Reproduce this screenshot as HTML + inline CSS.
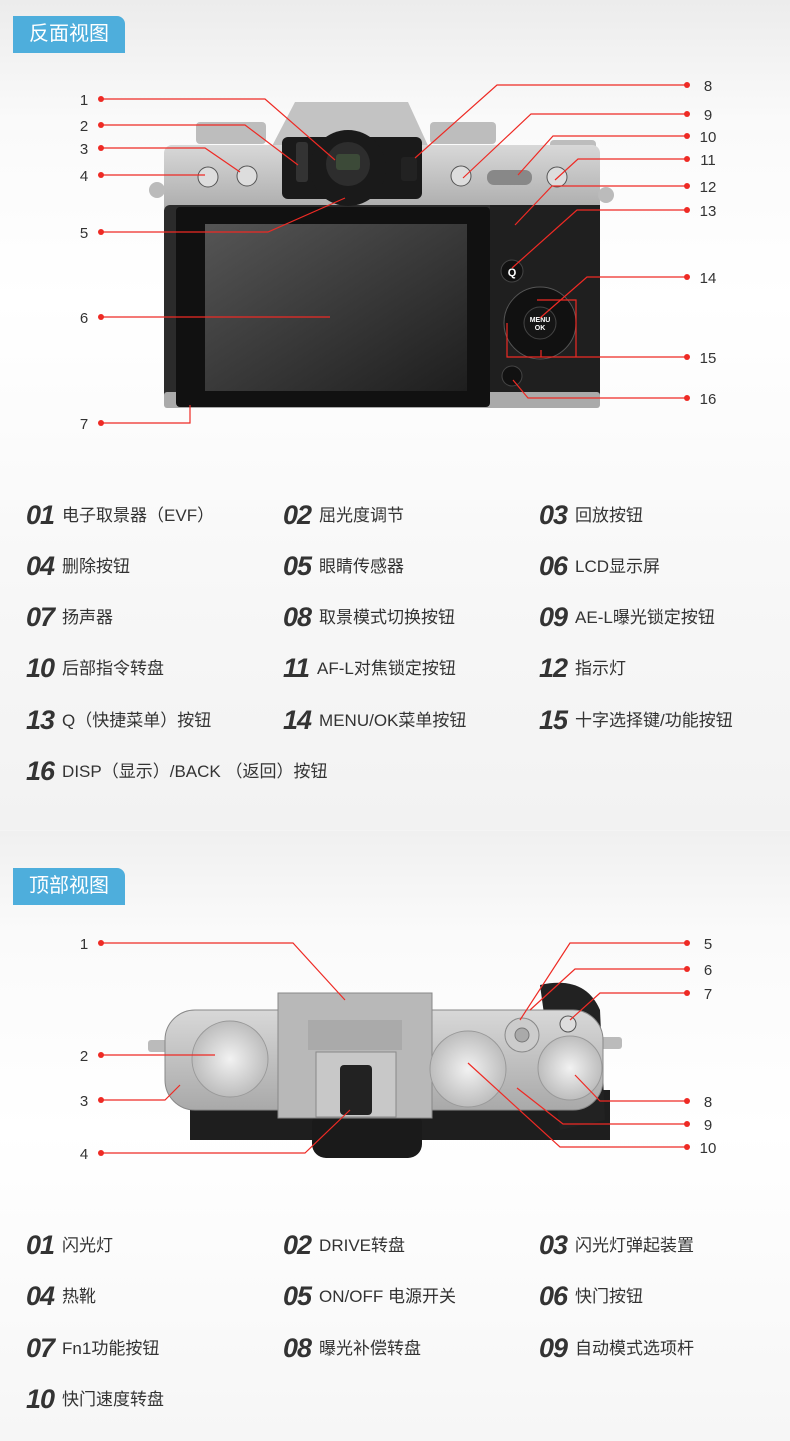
<!DOCTYPE html>
<html><head><meta charset="utf-8">
<style>
html,body{margin:0;padding:0}
body{width:790px;height:1441px;position:relative;overflow:hidden;font-family:"Liberation Sans","Noto Sans CJK SC",sans-serif;background:#f4f4f4}
.sec1{position:absolute;left:0;top:0;width:790px;height:830px;background:linear-gradient(#ececec 0px,#fafafa 120px,#fff 300px,#f7f7f7 600px,#f2f2f2 830px)}
.sec2{position:absolute;left:0;top:831px;width:790px;height:610px;background:linear-gradient(#f0f0f0 0px,#fafafa 100px,#fff 300px,#f6f6f6 610px)}
.badge{position:absolute;left:13px;width:112px;height:37px;background:#4eaedc;color:#fff;font-size:20px;line-height:37px;text-align:center;border-top-right-radius:8px}
.it{position:absolute;font-size:17px;color:#333;white-space:nowrap;line-height:30px}
.it b{font-style:italic;font-size:27px;font-weight:bold;color:#333;margin-right:8px;vertical-align:-3px;font-family:"Liberation Sans",sans-serif;letter-spacing:-1px}
svg{position:absolute;left:0;top:0}
</style></head><body>
<div class="sec1"></div><div class="sec2"></div>
<div class="badge" style="top:16px">反面视图</div>
<div class="badge" style="top:868px">顶部视图</div>

<svg width="790" height="1441" viewBox="0 0 790 1441">
<defs>
<linearGradient id="sil" x1="0" y1="0" x2="0" y2="1"><stop offset="0" stop-color="#d8d8d8"/><stop offset="1" stop-color="#a9a9a9"/></linearGradient>
<radialGradient id="dial" cx=".5" cy=".5" r=".5"><stop offset="0" stop-color="#f2f2f2"/><stop offset="1" stop-color="#bdbdbd"/></radialGradient>
<linearGradient id="scr" x1="0" y1="0" x2="1" y2="1"><stop offset="0" stop-color="#555"/><stop offset="1" stop-color="#1e1e1e"/></linearGradient>
</defs>
<!-- BACK CAMERA -->
<rect x="196" y="122" width="70" height="22" rx="4" fill="#bdbdbd"/>
<rect x="430" y="122" width="66" height="22" rx="4" fill="#bdbdbd"/>
<rect x="550" y="140" width="46" height="18" rx="4" fill="#bdbdbd"/>
<path d="M295 102 L408 102 L430 150 L270 150 Z" fill="#c3c3c3"/>
<rect x="164" y="145" width="436" height="70" rx="8" fill="url(#sil)"/>
<circle cx="157" cy="190" r="8" fill="#bbb"/><circle cx="606" cy="195" r="8" fill="#bbb"/>
<rect x="164" y="205" width="436" height="203" rx="6" fill="#2b2b2b"/>
<rect x="490" y="205" width="110" height="190" fill="#1f1f1f"/>
<rect x="164" y="392" width="436" height="16" rx="3" fill="#aaa"/>
<rect x="176" y="207" width="314" height="200" rx="4" fill="#111"/>
<rect x="205" y="224" width="262" height="167" fill="url(#scr)"/>
<rect x="282" y="137" width="140" height="62" rx="6" fill="#1a1a1a"/>
<circle cx="348" cy="168" r="38" fill="#1a1a1a"/><circle cx="348" cy="164" r="22" fill="#2d2d2d"/><rect x="336" y="154" width="24" height="16" rx="3" fill="#3c4a38"/>
<rect x="296" y="142" width="12" height="40" rx="3" fill="#333"/>
<rect x="401" y="157" width="16" height="24" rx="3" fill="#222"/>
<circle cx="208" cy="177" r="10" fill="#ddd" stroke="#555"/><circle cx="247" cy="176" r="10" fill="#ddd" stroke="#555"/>
<circle cx="461" cy="176" r="10" fill="#ddd" stroke="#555"/><circle cx="557" cy="177" r="10" fill="#ddd" stroke="#555"/>
<rect x="487" y="170" width="45" height="15" rx="7" fill="#888"/>
<circle cx="512" cy="271" r="11" fill="#111" stroke="#444"/><text x="512" y="276" font-size="11" font-weight="bold" fill="#fff" text-anchor="middle">Q</text>
<circle cx="540" cy="323" r="36" fill="#111" stroke="#555"/><circle cx="540" cy="323" r="16" fill="#151515" stroke="#444"/>
<text x="540" y="322" font-size="7" font-weight="bold" fill="#fff" text-anchor="middle">MENU</text><text x="540" y="330" font-size="7" font-weight="bold" fill="#fff" text-anchor="middle">OK</text>
<circle cx="512" cy="376" r="10" fill="#111" stroke="#444"/>
<!-- back lines -->
<g stroke="#ee2a24" stroke-width="1.2" fill="none">
<path d="M101 99H265L335 160"/><path d="M101 125H245L298 165"/><path d="M101 148H205L240 172"/><path d="M101 175H205"/>
<path d="M101 232H268L345 198"/><path d="M101 317H330"/><path d="M101 423H190V405"/>
<path d="M687 85H497L415 158"/><path d="M687 114H531L463 178"/><path d="M687 136H553L518 175"/><path d="M687 159H578L555 180"/>
<path d="M687 186H552L515 225"/><path d="M687 210H577L512 268"/><path d="M687 277H587L540 318"/>
<path d="M687 357H507V323M537 300H576V357M541 357V350"/><path d="M687 398H528L513 380"/>
</g>
<g fill="#ee2a24"><circle cx="101" cy="99" r="3"/><circle cx="101" cy="125" r="3"/><circle cx="101" cy="148" r="3"/><circle cx="101" cy="175" r="3"/><circle cx="101" cy="232" r="3"/><circle cx="101" cy="317" r="3"/><circle cx="101" cy="423" r="3"/>
<circle cx="687" cy="85" r="3"/><circle cx="687" cy="114" r="3"/><circle cx="687" cy="136" r="3"/><circle cx="687" cy="159" r="3"/><circle cx="687" cy="186" r="3"/><circle cx="687" cy="210" r="3"/><circle cx="687" cy="277" r="3"/><circle cx="687" cy="357" r="3"/><circle cx="687" cy="398" r="3"/></g>
<g font-size="15" fill="#333" text-anchor="middle">
<text x="84" y="105">1</text><text x="84" y="131">2</text><text x="84" y="154">3</text><text x="84" y="181">4</text><text x="84" y="238">5</text><text x="84" y="323">6</text><text x="84" y="429">7</text>
<text x="708" y="91">8</text><text x="708" y="120">9</text><text x="708" y="142">10</text><text x="708" y="165">11</text><text x="708" y="192">12</text><text x="708" y="216">13</text><text x="708" y="283">14</text><text x="708" y="363">15</text><text x="708" y="404">16</text></g>

<!-- TOP CAMERA -->
<rect x="190" y="1090" width="420" height="50" fill="#1e1e1e"/>
<rect x="312" y="1110" width="110" height="48" rx="14" fill="#1a1a1a"/>
<path d="M540 985 Q585 975 600 1010 L605 1120 L560 1130 Z" fill="#222"/>
<rect x="148" y="1040" width="30" height="12" rx="3" fill="#bbb"/><rect x="600" y="1037" width="22" height="12" rx="3" fill="#bbb"/>
<rect x="165" y="1010" width="438" height="100" rx="30" fill="url(#sil)" stroke="#888"/>
<path d="M278 993 L432 993 L432 1118 L278 1118 Z" fill="#b8b8b8" stroke="#888"/>
<rect x="308" y="1020" width="94" height="30" fill="#aaa"/>
<rect x="316" y="1052" width="80" height="65" fill="#c8c8c8" stroke="#888"/>
<rect x="340" y="1065" width="32" height="50" rx="4" fill="#222"/>
<circle cx="230" cy="1059" r="38" fill="url(#dial)" stroke="#999"/>
<circle cx="468" cy="1069" r="38" fill="url(#dial)" stroke="#999"/>
<circle cx="570" cy="1068" r="32" fill="url(#dial)" stroke="#999"/>
<circle cx="522" cy="1035" r="17" fill="#ccc" stroke="#888"/><circle cx="522" cy="1035" r="7" fill="#aaa" stroke="#777"/>
<circle cx="568" cy="1024" r="8" fill="#ddd" stroke="#555"/>
<g stroke="#ee2a24" stroke-width="1.2" fill="none">
<path d="M101 943H293L345 1000"/><path d="M101 1055H215"/><path d="M101 1100H165L180 1085"/><path d="M101 1153H305L350 1110"/>
<path d="M687 943H570L520 1020"/><path d="M687 969H575L530 1010"/><path d="M687 993H600L570 1020"/>
<path d="M687 1101H600L575 1075"/><path d="M687 1124H563L517 1088"/><path d="M687 1147H560L468 1063"/></g>
<g fill="#ee2a24"><circle cx="101" cy="943" r="3"/><circle cx="101" cy="1055" r="3"/><circle cx="101" cy="1100" r="3"/><circle cx="101" cy="1153" r="3"/>
<circle cx="687" cy="943" r="3"/><circle cx="687" cy="969" r="3"/><circle cx="687" cy="993" r="3"/><circle cx="687" cy="1101" r="3"/><circle cx="687" cy="1124" r="3"/><circle cx="687" cy="1147" r="3"/></g>
<g font-size="15" fill="#333" text-anchor="middle">
<text x="84" y="949">1</text><text x="84" y="1061">2</text><text x="84" y="1106">3</text><text x="84" y="1159">4</text>
<text x="708" y="949">5</text><text x="708" y="975">6</text><text x="708" y="999">7</text><text x="708" y="1107">8</text><text x="708" y="1130">9</text><text x="708" y="1153">10</text></g>
</svg>

<div class="it" style="left:26px;top:500px"><b>01</b>电子取景器（EVF）</div>
<div class="it" style="left:283px;top:500px"><b>02</b>屈光度调节</div>
<div class="it" style="left:539px;top:500px"><b>03</b>回放按钮</div>
<div class="it" style="left:26px;top:551px"><b>04</b>删除按钮</div>
<div class="it" style="left:283px;top:551px"><b>05</b>眼睛传感器</div>
<div class="it" style="left:539px;top:551px"><b>06</b>LCD显示屏</div>
<div class="it" style="left:26px;top:602px"><b>07</b>扬声器</div>
<div class="it" style="left:283px;top:602px"><b>08</b>取景模式切换按钮</div>
<div class="it" style="left:539px;top:602px"><b>09</b>AE-L曝光锁定按钮</div>
<div class="it" style="left:26px;top:653px"><b>10</b>后部指令转盘</div>
<div class="it" style="left:283px;top:653px"><b>11</b>AF-L对焦锁定按钮</div>
<div class="it" style="left:539px;top:653px"><b>12</b>指示灯</div>
<div class="it" style="left:26px;top:705px"><b>13</b>Q（快捷菜单）按钮</div>
<div class="it" style="left:283px;top:705px"><b>14</b>MENU/OK菜单按钮</div>
<div class="it" style="left:539px;top:705px"><b>15</b>十字选择键/功能按钮</div>
<div class="it" style="left:26px;top:756px"><b>16</b>DISP（显示）/BACK （返回）按钮</div>

<div class="it" style="left:26px;top:1230px"><b>01</b>闪光灯</div>
<div class="it" style="left:283px;top:1230px"><b>02</b>DRIVE转盘</div>
<div class="it" style="left:539px;top:1230px"><b>03</b>闪光灯弹起装置</div>
<div class="it" style="left:26px;top:1281px"><b>04</b>热靴</div>
<div class="it" style="left:283px;top:1281px"><b>05</b>ON/OFF 电源开关</div>
<div class="it" style="left:539px;top:1281px"><b>06</b>快门按钮</div>
<div class="it" style="left:26px;top:1333px"><b>07</b>Fn1功能按钮</div>
<div class="it" style="left:283px;top:1333px"><b>08</b>曝光补偿转盘</div>
<div class="it" style="left:539px;top:1333px"><b>09</b>自动模式选项杆</div>
<div class="it" style="left:26px;top:1384px"><b>10</b>快门速度转盘</div>
</body></html>
